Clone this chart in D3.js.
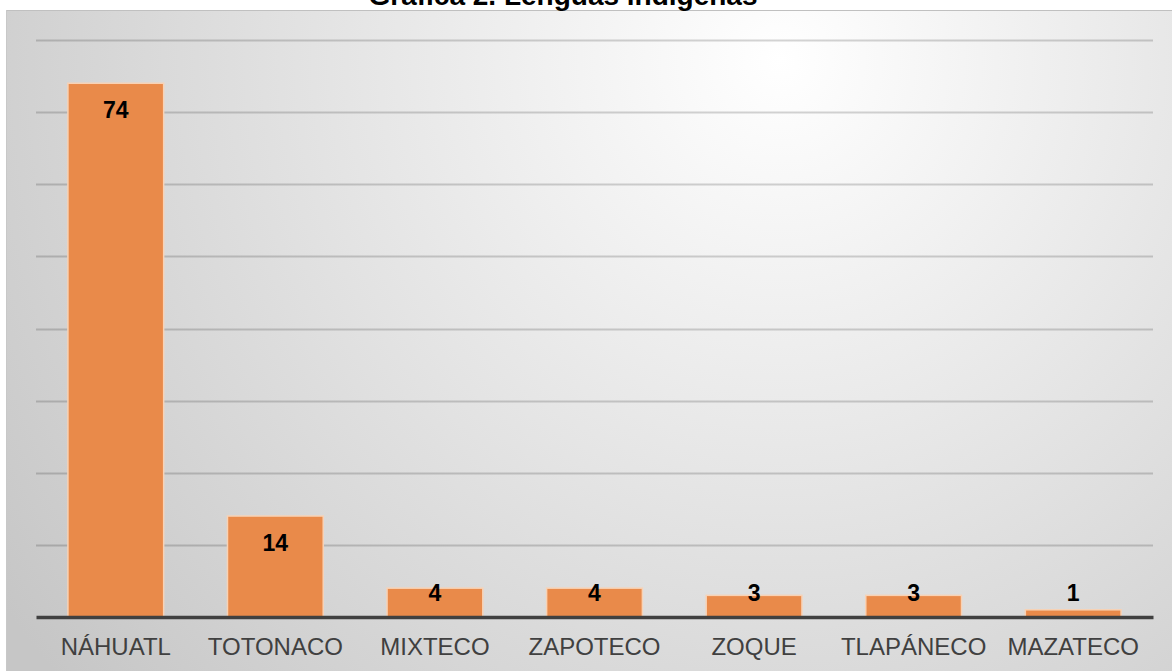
<!DOCTYPE html>
<html>
<head>
<meta charset="utf-8">
<script src="https://cdn.jsdelivr.net/npm/d3@7"></script>
<style>
  body { margin: 0; background: #fff; }
  svg { display: block; font-family: "Liberation Sans", Arial, sans-serif; }
</style>
</head>
<body>
<div id="chart"></div>
<script>
var categories = ["NÁHUATL", "TOTONACO", "MIXTECO", "ZAPOTECO", "ZOQUE", "TLAPÁNECO", "MAZATECO"];
var values = [74, 14, 4, 4, 3, 3, 1];
var yTicks = [0, 10, 20, 30, 40, 50, 60, 70, 80];
var title = "Gráfica 2. Lenguas indígenas";

var width = 1172;
var height = 671;
var plotLeft = 36, plotRight = 1153, plotTop = 40, plotBottom = 617;

var svg = d3.select("#chart")
  .append("svg")
  .attr("width", width)
  .attr("height", height);

var defs = svg.append("defs");
var grad = defs.append("radialGradient")
  .attr("id", "bg")
  .attr("gradientUnits", "userSpaceOnUse")
  .attr("cx", 780).attr("cy", 60).attr("r", 950);
grad.append("stop").attr("offset", "0%").attr("stop-color", "#ffffff");
grad.append("stop").attr("offset", "100%").attr("stop-color", "#c6c6c6");

// plot background
svg.append("rect")
  .attr("x", 6).attr("y", 10)
  .attr("width", width - 6).attr("height", height - 10)
  .attr("fill", "url(#bg)");
svg.append("line")
  .attr("x1", 6).attr("x2", width).attr("y1", 10.5).attr("y2", 10.5)
  .attr("stroke", "#c0c0c0").attr("stroke-width", 1);
svg.append("line")
  .attr("x1", 6.5).attr("x2", 6.5).attr("y1", 10).attr("y2", height)
  .attr("stroke", "#c8c8c8").attr("stroke-width", 1);

// title (cut at top like the original)
svg.append("text")
  .attr("x", 563).attr("y", 5)
  .attr("text-anchor", "middle")
  .attr("font-size", 28).attr("font-weight", "bold")
  .attr("fill", "#000")
  .text(title);

var x = d3.scaleBand()
  .domain(categories)
  .range([plotLeft, plotRight])
  .paddingInner(0.4)
  .paddingOuter(0.2);

var y = d3.scaleLinear()
  .domain([0, 80])
  .range([plotBottom, plotTop]);

// gridlines
svg.append("g")
  .selectAll("line")
  .data(yTicks.slice(1))
  .enter().append("line")
  .attr("x1", plotLeft).attr("x2", plotRight)
  .attr("y1", function (d) { return Math.round(y(d)) + 0.5; })
  .attr("y2", function (d) { return Math.round(y(d)) + 0.5; })
  .attr("stroke", "#000")
  .attr("stroke-opacity", 0.17)
  .attr("stroke-width", 2);

// bars
svg.append("g")
  .selectAll("rect")
  .data(values)
  .enter().append("rect")
  .attr("x", function (d, i) { return x(categories[i]); })
  .attr("y", function (d) { return y(d); })
  .attr("width", x.bandwidth())
  .attr("height", function (d) { return y(0) - y(d); })
  .attr("fill", "#e98a4a")
  .attr("stroke", "#f8d2b5")
  .attr("stroke-width", 1.5);

// baseline axis
var xAxis = svg.append("g")
  .attr("transform", "translate(0," + y(0) + ")")
  .call(d3.axisBottom(x).tickSize(0).tickPadding(21));
xAxis.select(".domain")
  .attr("stroke", "#404040")
  .attr("stroke-width", 3.5);
xAxis.selectAll("text")
  .attr("font-family", "Liberation Sans, Arial, sans-serif")
  .attr("font-size", 24)
  .attr("fill", "#404040");

// value labels
svg.append("g")
  .selectAll("text")
  .data(values)
  .enter().append("text")
  .attr("x", function (d, i) { return x(categories[i]) + x.bandwidth() / 2; })
  .attr("y", function (d) { return Math.min(y(d) + 35, y(0) - 16); })
  .attr("text-anchor", "middle")
  .attr("font-size", 23)
  .attr("font-weight", "bold")
  .attr("fill", "#000")
  .text(function (d) { return d; });
</script>
</body>
</html>
